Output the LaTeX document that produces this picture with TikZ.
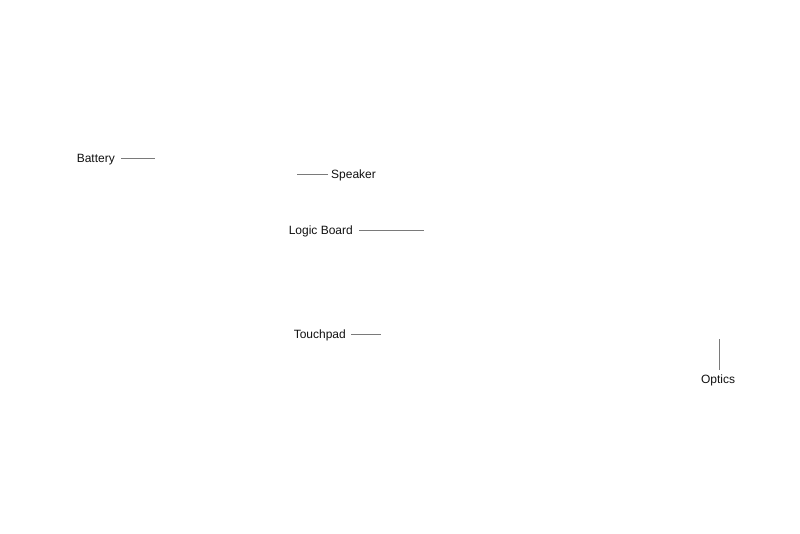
\documentclass[tikz,border=0pt]{standalone}
\usepackage{fontspec}
\setmainfont{Liberation Sans}
\definecolor{leader}{HTML}{7A7A7A}
\definecolor{labeltext}{HTML}{111111}
\begin{document}
\begin{tikzpicture}[x=1pt,y=1pt,
  lbl/.style={inner sep=0pt, text=labeltext, font=\fontsize{12}{14}\selectfont},
  leaderline/.style={draw=leader, line width=0.8pt}]
\useasboundingbox (0,0) rectangle (800,533);
% Battery
\node[lbl, anchor=east] (battery) at (115,373.5) {Battery};
\coordinate (batterystart) at (121,375);
\coordinate (batteryend) at (155,375);
\draw[leaderline] (batterystart) -- (batteryend);
% Speaker
\node[lbl, anchor=west] (speaker) at (331,357.5) {Speaker};
\coordinate (speakerstart) at (328,359);
\coordinate (speakerend) at (297,359);
\draw[leaderline] (speakerstart) -- (speakerend);
% Logic Board
\node[lbl, anchor=east] (logic) at (353,301.5) {Logic Board};
\coordinate (logicstart) at (359,303);
\coordinate (logicend) at (424,303);
\draw[leaderline] (logicstart) -- (logicend);
% Touchpad
\node[lbl, anchor=east] (touch) at (346,197.5) {Touchpad};
\coordinate (touchstart) at (351,199);
\coordinate (touchend) at (381,199);
\draw[leaderline] (touchstart) -- (touchend);
% Optics
\node[lbl] (optics) at (718,152.5) {Optics};
\coordinate (opticsstart) at (719,163);
\coordinate (opticsend) at (719,194);
\draw[leaderline] (opticsstart) -- (opticsend);
\end{tikzpicture}
\end{document}
